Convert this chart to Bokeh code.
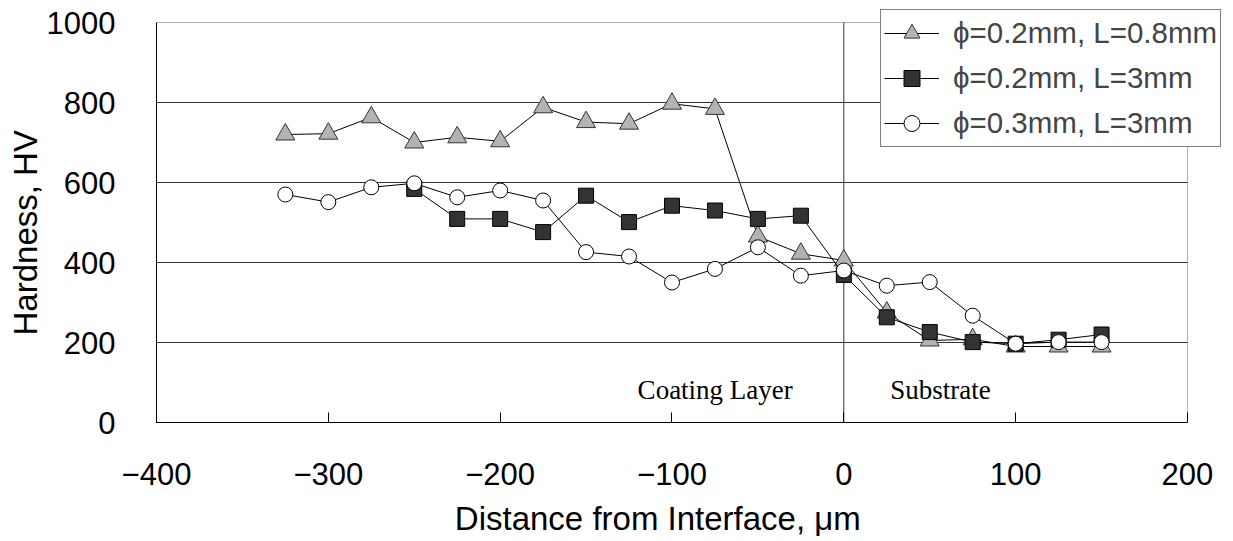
from bokeh.plotting import figure
from bokeh.models import Legend, LegendItem, FixedTicker, BoxAnnotation, Title
from bokeh.core.properties import value
from bokeh.embed import file_html
from bokeh.resources import INLINE

# ---- data ----
distance = [-325, -300, -275, -250, -225, -200, -175, -150, -125, -100, -75, -50, -25,
            0, 25, 50, 75, 100, 125, 150]
hv_d02_L08 = [720, 722, 763, 700, 713, 703, 788, 751, 747, 797, 784, 465, 422,
              405, 275, 205, 208, 190, 190, 190]
distance_sq = [-250, -225, -200, -175, -150, -125, -100, -75, -50, -25,
               0, 25, 50, 75, 100, 125, 150]
hv_d02_L3 = [584, 509, 509, 476, 567, 501, 542, 530, 509, 517,
             369, 263, 226, 201, 197, 207, 220]
hv_d03_L3 = [570, 551, 588, 598, 563, 580, 555, 426, 415, 350, 384, 438, 367,
             380, 342, 351, 267, 197, 201, 201]

series_names = ["\u03d5=0.2mm, L=0.8mm", "\u03d5=0.2mm, L=3mm", "\u03d5=0.3mm, L=3mm"]
x_ticks = [-400, -300, -200, -100, 0, 100, 200]
x_tick_labels = ["\u2212400", "\u2212300", "\u2212200", "\u2212100", "0", "100", "200"]
y_ticks = [0, 200, 400, 600, 800, 1000]
y_grid_values = [200, 400, 600, 800]
interface_x = [0]
region_labels = ["Coating Layer", "Substrate"]
region_label_x = [-120, 27]
region_label_y = [82, 82]
x_title = "Distance from Interface, \u03bcm"
y_title = "Hardness, HV"

X_MIN, X_MAX = -400, 200
Y_MIN, Y_MAX = 0, 1000

SANS = "Liberation Sans"

# frame extended beyond the drawn box so the legend may overlap the box edge
p = figure(width=1232, height=541, output_backend="svg", toolbar_location=None,
           x_range=(X_MIN, 226.2), y_range=(Y_MIN, 1055),
           min_border_left=156, min_border_right=0, min_border_top=0, min_border_bottom=119)
p.background_fill_color = "white"
p.border_fill_color = "white"
p.outline_line_color = None

# axes
p.xaxis.ticker = FixedTicker(ticks=x_ticks)
p.xaxis.major_label_overrides = {t: l for t, l in zip(x_ticks, x_tick_labels)}
p.yaxis.ticker = FixedTicker(ticks=y_ticks)
p.xaxis.bounds = (X_MIN, X_MAX)
p.yaxis.bounds = (Y_MIN, Y_MAX)
p.xaxis.minor_tick_line_color = None
p.yaxis.minor_tick_line_color = None
p.xaxis.major_tick_in = 10
p.xaxis.major_tick_out = 0
p.yaxis.major_tick_in = 0
p.yaxis.major_tick_out = 0
for ax in (p.xaxis, p.yaxis):
    ax.axis_line_color = "black"
    ax.major_tick_line_color = "black"
    ax.major_label_text_font = SANS
    ax.major_label_text_font_size = "31px"
    ax.major_label_text_color = "black"
p.xaxis.major_label_standoff = 40
p.yaxis.major_label_standoff = 41

# x title: axis label centred on the drawn box (frame is wider), using trailing no-break spaces
p.xaxis.axis_label = x_title + "\u00a0" * 8
p.xaxis.axis_label_text_font = SANS
p.xaxis.axis_label_text_font_size = "33px"
p.xaxis.axis_label_text_font_style = "normal"
p.xaxis.axis_label_text_color = "black"
p.xaxis.axis_label_standoff = 12

# y title placed relative to the drawn box (not the extended frame)
ytitle = Title(text=y_title, align="left", offset=87, standoff=0,
               text_font=SANS, text_font_size="33px", text_font_style="normal",
               text_color="black")
p.add_layout(ytitle, "left")

# grid: horizontal lines at the inner ticks, vertical line at the interface
p.xgrid.grid_line_color = None
p.ygrid.grid_line_color = None
p.segment(x0=[X_MIN] * len(y_grid_values), x1=[X_MAX] * len(y_grid_values),
          y0=y_grid_values, y1=y_grid_values, line_color="#333333", line_width=1)
p.segment(x0=interface_x, x1=interface_x, y0=[Y_MIN], y1=[Y_MAX],
          line_color="#333333", line_width=1)

# series
l1 = p.line(distance, hv_d02_L08, line_color="black", line_width=1)
m1 = p.scatter(distance, hv_d02_L08, marker="triangle", size=19,
               fill_color="#b3b3b3", line_color="#333333", line_width=1)
l2 = p.line(distance_sq, hv_d02_L3, line_color="black", line_width=1)
m2 = p.scatter(distance_sq, hv_d02_L3, marker="square", size=15,
               fill_color="#333333", line_color="black", line_width=1)
l3 = p.line(distance, hv_d03_L3, line_color="black", line_width=1)
m3 = p.scatter(distance, hv_d03_L3, marker="circle", size=15,
               fill_color="white", line_color="black", line_width=1)

p.text(x=region_label_x, y=region_label_y, text=region_labels,
       text_font=value("Liberation Serif"), text_font_size="27px",
       text_baseline="alphabetic", text_align="left", text_color="black")

# plot box
p.add_layout(BoxAnnotation(left=X_MIN, right=X_MAX, bottom=Y_MIN, top=Y_MAX,
                           fill_alpha=0, line_color="black", line_width=1))

legend = Legend(items=[
    LegendItem(label=series_names[0], renderers=[l1, m1]),
    LegendItem(label=series_names[1], renderers=[l2, m2]),
    LegendItem(label=series_names[2], renderers=[l3, m3]),
], location=(724, 275))
legend.label_text_font = SANS
legend.label_text_font_size = "29.5px"
legend.glyph_width = 55
legend.glyph_height = 40
legend.label_height = 40
legend.spacing = 5
legend.padding = 3
legend.label_standoff = 14
legend.margin = 0
legend.border_line_color = "black"
legend.border_line_width = 1
legend.background_fill_color = "white"
legend.background_fill_alpha = 1
p.add_layout(legend, "center")

open("out.html", "w").write(file_html(p, INLINE))
